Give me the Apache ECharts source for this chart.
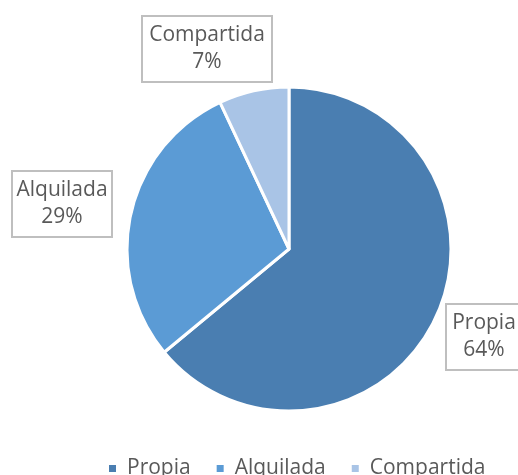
<!DOCTYPE html>
<html><head><meta charset="utf-8">
<script src="https://cdn.jsdelivr.net/npm/echarts@6/dist/echarts.min.js"></script>
<style>html,body{margin:0;padding:0;background:#fff}#c{width:518px;height:475px}</style>
</head><body><div id="c"></div>
<script>
const categories = ['Propia', 'Alquilada', 'Compartida'];
const values = [64, 29, 7];
const colors = ['#4a7eb1', '#5b9bd5', '#a9c4e6'];
const labelPos = [[484, 337], [62, 204], [207, 49]];
const labelWidths = [62, 86, 116];

const chart = echarts.init(document.getElementById('c'), null, {renderer: 'canvas'});
const font = 'Open Sans, Noto Sans, sans-serif';
chart.setOption({
  animation: false,
  legend: {
    top: 453, left: 102,
    data: categories,
    icon: 'rect', itemWidth: 9, itemHeight: 9, itemGap: 24,
    textStyle: {fontSize: 21, color: '#595959', fontFamily: font, padding: [0, 0, 0, 5]}
  },
  series: [{
    type: 'pie',
    center: [289, 249],
    radius: [0, 162],
    startAngle: 90,
    clockwise: true,
    itemStyle: {borderColor: '#fff', borderWidth: 3},
    label: {
      show: true,
      position: 'outside',
      overflow: 'none',
      align: 'center',
      formatter: '{b}\n{d}%',
      fontSize: 21, color: '#595959', fontFamily: font,
      lineHeight: 27,
      borderColor: '#bfbfbf', borderWidth: 2,
      padding: [6, 6, 4, 6],
      backgroundColor: '#fff'
    },
    labelLine: {show: false},
    labelLayout: function (p) {
      const pos = labelPos[p.dataIndex];
      return {x: pos[0], y: pos[1], align: 'center', verticalAlign: 'middle'};
    },
    emphasis: {disabled: true},
    data: categories.map((c, i) => ({
      name: c, value: values[i],
      itemStyle: {color: colors[i]},
      label: {width: labelWidths[i]}
    }))
  }]
});
</script></body></html>
